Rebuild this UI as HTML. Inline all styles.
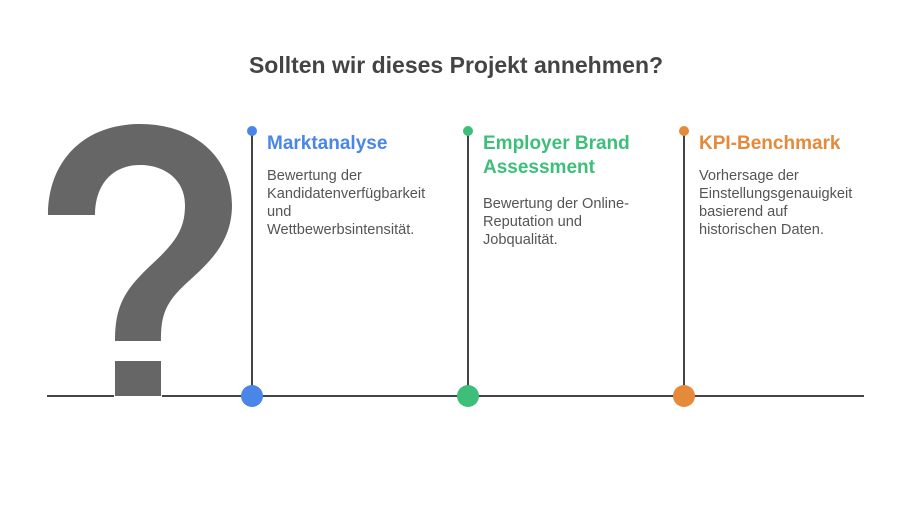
<!DOCTYPE html>
<html><head><meta charset="utf-8"><style>
body{margin:0;width:912px;height:516px;background:#fff;position:relative;overflow:hidden;font-family:"Liberation Sans",sans-serif}
.h{position:absolute;top:52px;left:0;width:912px;text-align:center;font-size:23px;font-weight:bold;color:#444}
.t{position:absolute;font-size:19px;font-weight:bold;line-height:24px}
.b{position:absolute;font-size:14.6px;line-height:18px;color:#555}
</style></head><body>
<div class="h">Sollten wir dieses Projekt annehmen?</div>
<svg width="912" height="516" style="position:absolute;left:0;top:0">
<path d="M48,215 C48,160 85,124 140,124 C195,124 232,158 232,205 C232,240 212,260 190,280 C165,302 161,315 161,341 L115,341 C115,305 125,290 150,266 C175,243 185,230 185,205 C185,180 165,165 140,165 C112,165 95,185 95,215 Z" fill="#666"/>
<rect x="115" y="361" width="46" height="35" fill="#666"/>
<g stroke="#444" stroke-width="2">
<line x1="47" y1="396" x2="114" y2="396"/><line x1="162" y1="396" x2="864" y2="396"/>
<line x1="252" y1="131" x2="252" y2="396"/><line x1="468" y1="131" x2="468" y2="396"/><line x1="684" y1="131" x2="684" y2="396"/>
</g>
<circle cx="252" cy="131" r="5" fill="#4a86e8"/><circle cx="252" cy="396" r="11" fill="#4a86e8"/>
<circle cx="468" cy="131" r="5" fill="#3dbf7a"/><circle cx="468" cy="396" r="11" fill="#3dbf7a"/>
<circle cx="684" cy="131" r="5" fill="#e58a3a"/><circle cx="684" cy="396" r="11" fill="#e58a3a"/>
</svg>
<div class="t" style="left:267px;top:132px;color:#4a86e8">Marktanalyse</div>
<div class="b" style="left:267px;top:167px">Bewertung der<br>Kandidatenverfügbarkeit<br>und<br>Wettbewerbsintensität.</div>
<div class="t" style="left:483px;top:132px;color:#3dbf7a">Employer Brand<br>Assessment</div>
<div class="b" style="left:483px;top:195px">Bewertung der Online-<br>Reputation und<br>Jobqualität.</div>
<div class="t" style="left:699px;top:132px;color:#e58a3a">KPI-Benchmark</div>
<div class="b" style="left:699px;top:167px">Vorhersage der<br>Einstellungsgenauigkeit<br>basierend auf<br>historischen Daten.</div>
</body></html>
